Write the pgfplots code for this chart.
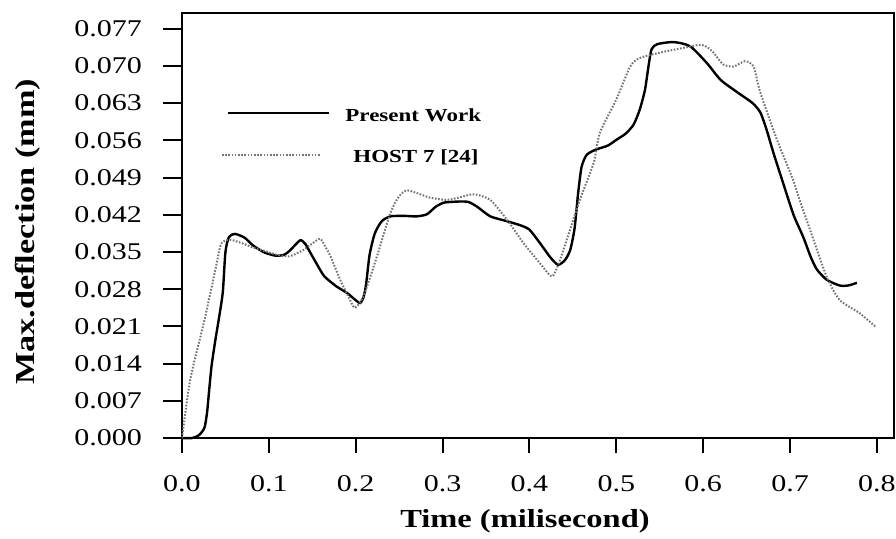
\documentclass[border=0pt]{standalone}
\usepackage{fontspec}
\setmainfont[FakeStretch=1.25]{Liberation Serif}
\usepackage{pgfplots}
\pgfplotsset{compat=1.18}

\begin{document}
\begin{tikzpicture}
\begin{axis}[
  scale only axis,
  width=356pt, height=212.5pt,
  xmin=0, xmax=0.8197, ymin=0, ymax=0.07997,
  axis line style={line width=1pt},
  tickpos=left,
  major tick length=0pt,
  xtick={0,0.1,0.2,0.3,0.4,0.5,0.6,0.7,0.8},
  ytick={0,0.007,0.014,0.021,0.028,0.035,0.042,0.049,0.056,0.063,0.070,0.077},
  scaled y ticks=false, scaled x ticks=false,
  /pgf/number format/assume math mode=true,
  xticklabel style={yshift=-15pt, /pgf/number format/.cd, fixed, fixed zerofill, precision=1},
  yticklabel style={xshift=-16.5pt, /pgf/number format/.cd, fixed, fixed zerofill, precision=3},
  ticklabel style={font=\fontsize{12}{14}\selectfont},
  xlabel={Time (milisecond)},
  ylabel={Max.deflection (mm)},
  xlabel style={font=\fontsize{13}{15}\selectfont\bfseries, at={(axis description cs:0.4817,-0.195)}, anchor=center},
  ylabel style={font=\fontsize{13.7}{15}\selectfont\bfseries, at={(axis description cs:-0.2163,0.485)}, anchor=center, rotate=0},
  clip=false,
]
% Present work (solid)
\addplot[black, line width=1.2pt, smooth, tension=0.4] coordinates {
(0,0) (0.012,0.0000) (0.020,0.0006) (0.026,0.0020) (0.029,0.0050)
(0.031,0.0085) (0.034,0.0135) (0.038,0.0180) (0.043,0.0230) (0.047,0.0275)
(0.050,0.0350) (0.054,0.0378) (0.061,0.0384) (0.072,0.0377) (0.082,0.0362)
(0.095,0.0349) (0.108,0.0343) (0.118,0.0345) (0.125,0.0354) (0.136,0.0372)
(0.142,0.0365) (0.148,0.0348) (0.156,0.0325) (0.164,0.0304) (0.178,0.0285)
(0.190,0.0273) (0.198,0.0262) (0.205,0.0254) (0.209,0.0265) (0.212,0.0290)
(0.216,0.0345) (0.222,0.0385) (0.230,0.0408) (0.240,0.0417) (0.255,0.0418)
(0.270,0.0417) (0.282,0.0421) (0.292,0.0435) (0.302,0.0443) (0.320,0.0445)
(0.330,0.0444) (0.340,0.0435) (0.355,0.0417) (0.374,0.0408) (0.390,0.0400)
(0.400,0.0392) (0.412,0.0367) (0.424,0.0340) (0.433,0.0326) (0.441,0.0335)
(0.447,0.0354) (0.452,0.0395) (0.456,0.0460) (0.460,0.0510) (0.466,0.0533)
(0.477,0.0543) (0.490,0.0550) (0.500,0.0561) (0.511,0.0573) (0.520,0.0590)
(0.527,0.0618) (0.533,0.0655) (0.537,0.0699) (0.5405,0.0731) (0.547,0.0741)
(0.566,0.0745) (0.585,0.0737)
(0.604,0.0706) (0.620,0.0674) (0.638,0.0652) (0.657,0.0630) (0.666,0.0612)
(0.673,0.0580) (0.681,0.0536) (0.692,0.0480) (0.704,0.0420) (0.715,0.0379)
(0.724,0.0340) (0.731,0.0317) (0.742,0.0298) (0.757,0.0287) (0.767,0.0287)
(0.777,0.0292)
};
% HOST 7 [24] (dotted)
\addplot[black!55, line width=1pt, dash pattern=on 0.8pt off 0.8pt, smooth, tension=0.4] coordinates {
(0,0) (0.0095,0.0110) (0.025,0.0216) (0.036,0.0298) (0.044,0.0360)
(0.048,0.0370) (0.056,0.0373) (0.070,0.0366) (0.082,0.0358) (0.095,0.0352)
(0.109,0.0345) (0.124,0.0342) (0.140,0.0354) (0.150,0.0366) (0.159,0.0375)
(0.165,0.0360) (0.171,0.0342) (0.182,0.0298) (0.192,0.0265) (0.199,0.0245)
(0.209,0.0267) (0.2245,0.0342) (0.240,0.0424) (0.250,0.0455) (0.259,0.0466)
(0.272,0.0460) (0.286,0.0452) (0.305,0.0448) (0.320,0.0453) (0.332,0.0458)
(0.339,0.0458) (0.355,0.0448) (0.374,0.0411) (0.393,0.0367) (0.412,0.0329)
(0.426,0.0304) (0.434,0.0330) (0.443,0.0373) (0.458,0.0448) (0.474,0.0518)
(0.481,0.0574) (0.500,0.0637) (0.516,0.0699) (0.527,0.0715) (0.550,0.0725)
(0.577,0.0734) (0.597,0.0740) (0.605,0.0735) (0.612,0.0725) (0.623,0.0703)
(0.635,0.0699) (0.648,0.0709) (0.658,0.0699) (0.666,0.0649) (0.685,0.0561)
(0.7035,0.0486) (0.711,0.0448) (0.723,0.0392) (0.742,0.0304) (0.757,0.0260)
(0.780,0.0235) (0.798,0.0210)
};
\end{axis}
% outward tick marks (x every 0.1, y every 0.007)
\foreach \i in {0,...,8}
  \draw[line width=1pt] (\i*43.431pt,0pt) -- (\i*43.431pt,-7.5pt);
\foreach \j in {0,...,11}
  \draw[line width=1pt] (0pt,\j*18.601pt) -- (-9.5pt,\j*18.601pt);
% legend
\draw[black, line width=1.2pt] (23pt,162.5pt) -- (73.5pt,162.5pt);
\node[anchor=west, inner sep=0pt, font=\fontsize{9.2}{11}\selectfont\bfseries] at (81.5pt,161.5pt) {Present Work};
\draw[black!55, line width=1pt, dash pattern=on 0.8pt off 0.8pt] (20pt,141.5pt) -- (69pt,141.5pt);
\node[anchor=west, inner sep=0pt, font=\fontsize{9.2}{11}\selectfont\bfseries] at (85.5pt,140.5pt) {HOST 7 [24]};
\pgfresetboundingbox
\useasboundingbox (-91pt,-50pt) rectangle (357pt,219pt);
\end{tikzpicture}
\end{document}
